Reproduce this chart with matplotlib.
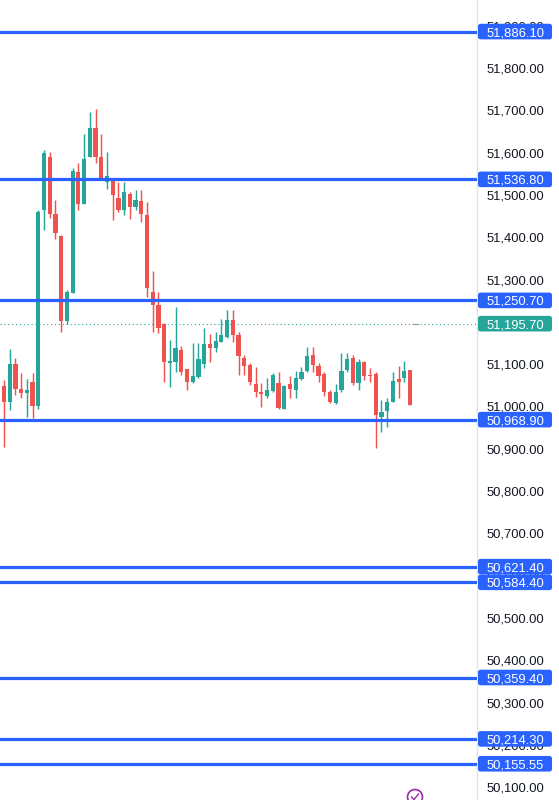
import matplotlib
matplotlib.use("Agg")
import matplotlib.pyplot as plt
from matplotlib.patches import FancyBboxPatch, Circle
from matplotlib.lines import Line2D
from matplotlib.transforms import IdentityTransform
import numpy as np

# ---- data ----
opens = [51048.4, 51010.6, 51100.4, 51041.3, 51031.9, 51057.9, 51001.1, 51464.4, 51589.7, 51454.9,
         51402.9, 51202.0, 51268.2, 51554.2, 51478.6, 51589.7, 51658.2, 51589.7, 51530.6, 51532.9,
         51492.7, 51464.4, 51502.2, 51471.5, 51485.7, 51452.6, 51270.6, 51239.9, 51194.9, 51102.8,
         51105.1, 51133.5, 51088.6, 51057.9, 51069.7, 51100.4, 51147.7, 51138.2, 51152.4, 51164.2,
         51204.4, 51169.0, 51114.6, 51098.0, 51053.1, 51034.2, 51024.8, 51036.6, 51055.5, 50994.1,
         51053.1, 51039.0, 51065.0, 51083.8, 51121.7, 51095.7, 51076.8, 51034.2, 51008.2, 51039.0,
         51086.2, 51114.6, 51055.5, 51105.1, 51074.4, 51076.8, 50975.1, 50989.3, 51010.6, 51065.0,
         51067.3, 51086.2]
highs = [51062.6, 51135.9, 51114.6, 51079.1, 51065.0, 51079.1, 51465.0, 51606.2, 51601.5, 51488.0,
         51405.0, 51275.3, 51563.6, 51575.5, 51644.0, 51696.0, 51703.1, 51644.0, 51601.5, 51532.9,
         51530.6, 51530.6, 51506.9, 51511.7, 51511.7, 51483.3, 51320.2, 51270.6, 51197.3, 51157.1,
         51235.1, 51142.9, 51088.6, 51150.0, 51150.0, 51185.5, 51171.3, 51176.0, 51206.8, 51228.0,
         51228.0, 51176.0, 51121.7, 51102.8, 51093.3, 51055.5, 51067.3, 51079.1, 51081.5, 51050.8,
         51072.0, 51083.8, 51093.3, 51140.6, 51140.6, 51102.8, 51081.5, 51039.0, 51053.1, 51126.4,
         51126.4, 51121.7, 51112.2, 51107.5, 51090.9, 51081.5, 51015.3, 51020.0, 51081.5, 51095.7,
         51107.5, 51086.2]
lows = [50904.2, 50991.7, 51027.1, 51020.0, 50975.1, 50972.8, 50995.0, 51417.1, 51445.5, 51395.8,
        51176.0, 51194.9, 51268.2, 51464.4, 51478.6, 51589.7, 51575.5, 51535.3, 51514.0, 51440.7,
        51459.7, 51452.6, 51443.1, 51464.4, 51436.0, 51258.8, 51176.0, 51173.7, 51057.9, 51046.0,
        51081.5, 51074.4, 51039.0, 51055.5, 51067.3, 51090.9, 51105.1, 51128.8, 51152.4, 51161.9,
        51152.4, 51074.4, 51074.4, 51050.8, 51022.4, 50998.8, 51020.0, 51034.2, 50994.1, 50994.1,
        51020.0, 51020.0, 51062.6, 51081.5, 51081.5, 51057.9, 51024.8, 51008.2, 51005.9, 51034.2,
        51081.5, 51050.8, 51039.0, 51062.6, 51057.9, 50901.9, 50939.7, 50951.5, 51010.6, 51020.0,
        51057.9, 51003.5]
closes = [51010.6, 51100.4, 51041.3, 51031.9, 51039.0, 51001.1, 51459.7, 51599.1, 51454.9, 51410.0,
          51202.0, 51270.6, 51556.6, 51478.6, 51584.9, 51658.2, 51589.7, 51535.3, 51544.7, 51499.8,
          51464.4, 51506.9, 51471.5, 51488.0, 51454.9, 51280.0, 51239.9, 51185.5, 51105.1, 51107.5,
          51138.2, 51081.5, 51057.9, 51072.0, 51112.2, 51147.7, 51138.2, 51154.8, 51169.0, 51204.4,
          51169.0, 51119.3, 51095.7, 51057.9, 51034.2, 51029.5, 51039.0, 51074.4, 50996.4, 51048.4,
          51041.3, 51067.3, 51081.5, 51119.3, 51098.0, 51072.0, 51034.2, 51010.6, 51034.2, 51083.8,
          51112.2, 51055.5, 51105.1, 51072.0, 51072.0, 50979.9, 50987.0, 51010.6, 51060.2, 51057.9,
          51083.8, 51003.5]

levels = [51886.10, 51536.80, 51250.70, 50968.90, 50621.40, 50584.40, 50359.40, 50214.30, 50155.55]
current_price = 51195.70
tick_values = [50100, 50200, 50300, 50400, 50500, 50600, 50700, 50800, 50900, 51000,
               51100, 51200, 51300, 51400, 51500, 51600, 51700, 51800, 51900]

# ---- style ----
GREEN = "#26A69A"
RED = "#EF5350"
BLUE = "#2962FF"
TEXT = "#131722"
FONT = "Liberation Sans"

W, H = 559, 800
fig = plt.figure(figsize=(W / 100, H / 100), dpi=100)
fig.patch.set_facecolor("white")
ax = fig.add_axes([0, 0, 477 / W, 1])
ax.set_facecolor("white")

n = len(opens)
x = np.arange(n)
ax.set_xlim(-0.7, 82.7)
ax.set_ylim(50069.9, 51960.7)

for i in range(n):
    o, h, l, c = opens[i], highs[i], lows[i], closes[i]
    col = GREEN if c >= o else RED
    ax.vlines(x[i], l, h, color=col, linewidth=1.05, zorder=3)
    bottom = min(o, c)
    height = max(abs(c - o), 1.5)
    ax.bar(x[i], height, bottom=bottom, width=0.74, color=col, linewidth=0, zorder=4)

for lv in levels:
    ax.axhline(lv, color=BLUE, linewidth=2.3, zorder=5)

ax.axhline(current_price, color=GREEN, linewidth=0.8, linestyle=(0, (1, 2.5)), zorder=2)
ax.plot([x[-1] + 0.6, x[-1] + 1.4], [current_price, current_price], color="#9598a1", linewidth=0.8, zorder=2)

# axes styling
for side in ["top", "left", "bottom"]:
    ax.spines[side].set_visible(False)
ax.spines["right"].set_color("#E0E3EB")
ax.spines["right"].set_linewidth(1.0)
ax.set_xticks([])
ax.yaxis.tick_right()
ax.set_yticks(tick_values)
ax.set_yticklabels([f"{v:,.2f}" for v in tick_values], fontsize=9.4, color=TEXT, family=FONT)
ax.tick_params(axis="y", length=0, pad=7.0)

# price label boxes on the right scale
fig.canvas.draw()
ytrans = ax.get_yaxis_transform()


def add_label(value, color):
    _, yp = ytrans.transform((1, value))
    box = FancyBboxPatch((478, yp - 7.8), 74, 15.6,
                         boxstyle="round,pad=0,rounding_size=2.5",
                         transform=IdentityTransform(), facecolor=color,
                         edgecolor="none", zorder=10)
    fig.add_artist(box)
    fig.text(486.5 / W, yp / H, f"{value:,.2f}", color="white", fontsize=9.4,
             family=FONT, ha="left", va="center_baseline", zorder=11)


for lv in levels:
    add_label(lv, BLUE)
add_label(current_price, GREEN)

# small purple icon at the bottom (circle with a check mark)
circ = Circle((415, 3), 7.5, transform=IdentityTransform(), facecolor="white",
              edgecolor="#9C27B0", linewidth=1.2, zorder=12)
fig.add_artist(circ)
check = Line2D([411.5, 414, 418.5], [3, 0.5, 6], transform=IdentityTransform(),
               color="#9C27B0", linewidth=1.0, zorder=13)
fig.add_artist(check)

fig.savefig("out.png", dpi=100, facecolor="white")
